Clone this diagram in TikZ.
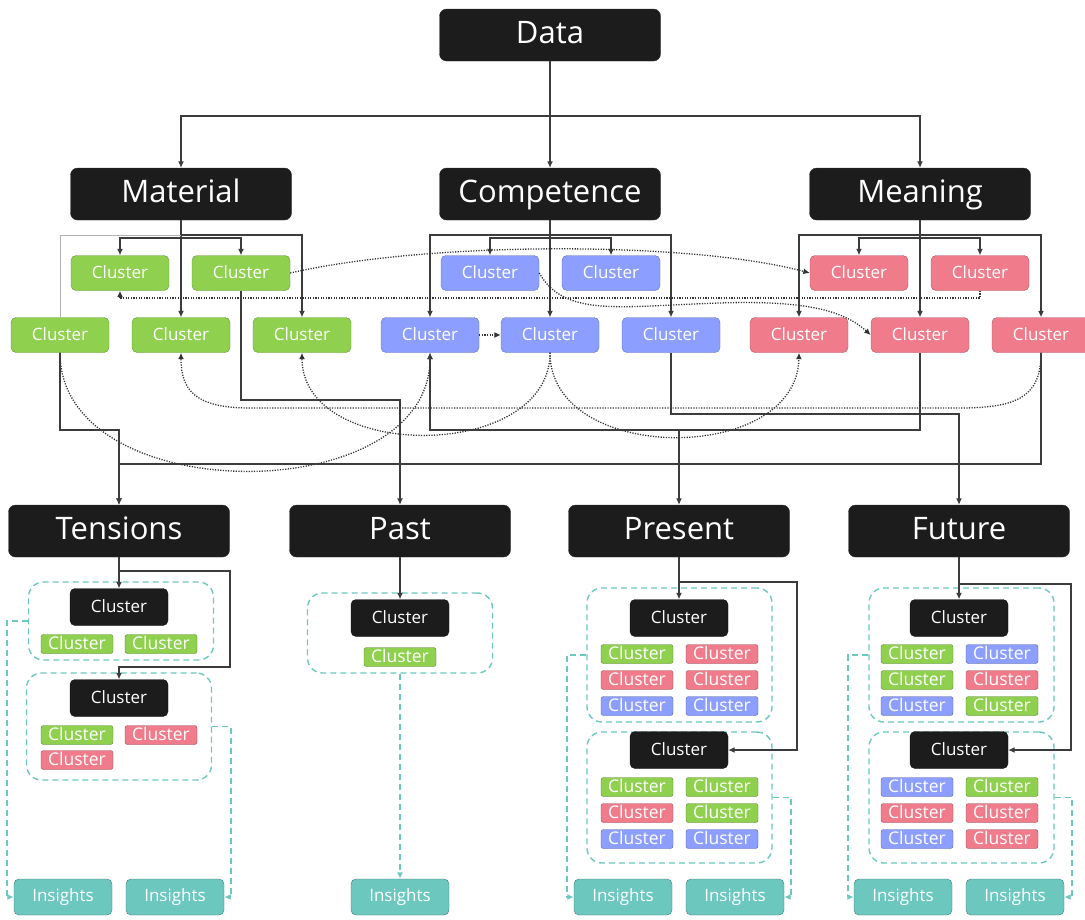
\documentclass[tikz,border=0pt]{standalone}
\usepackage{fontspec}
\setmainfont{Open Sans}
\usetikzlibrary{arrows.meta}
\definecolor{boxblack}{HTML}{1C1C1C}
\definecolor{cgreen}{HTML}{8FD14F}
\definecolor{cblue}{HTML}{8C9EFF}
\definecolor{cred}{HTML}{EF7B8B}
\definecolor{cteal}{HTML}{6CC8BF}
\definecolor{linkgray}{HTML}{3C3C3C}
\tikzset{
  head/.style={fill=boxblack,draw=black!80,rounded corners=7pt,text=white,minimum width=221pt,minimum height=52pt,inner sep=0pt,text height=23pt,text depth=6.5pt,font=\fontsize{31}{34}\selectfont},
  clu/.style={fill=#1,draw=#1!70!black,rounded corners=5pt,text=white,minimum width=98pt,minimum height=35pt,inner sep=0pt,text height=13pt,text depth=2.5pt,font=\fontsize{17}{20}\selectfont},
  chip/.style={fill=#1,draw=#1!60!black,rounded corners=2.5pt,text=white,minimum width=72pt,minimum height=19pt,inner sep=0pt,text height=13pt,text depth=2.5pt,font=\fontsize{17.5}{20}\selectfont},
  insight/.style={fill=cteal,draw=cteal!60!black,rounded corners=5pt,text=white,minimum width=98pt,minimum height=36pt,inner sep=0pt,text height=13pt,text depth=3.5pt,font=\fontsize{17}{20}\selectfont},
  grp/.style={draw=cteal,line width=1.4pt,dash pattern=on 6pt off 4pt,rounded corners=15pt,minimum width=185pt,minimum height=#1,inner sep=0pt},
  link/.style={draw=linkgray,line width=1.2pt},
  ghost/.style={draw=black!30,line width=0.8pt},
  dots/.style={draw=black!80,line width=1.3pt,dash pattern=on 1.2pt off 1.4pt},
  insline/.style={draw=cteal,line width=1.4pt,dash pattern=on 6pt off 4pt}
}
\begin{document}
\begin{tikzpicture}[x=1pt,y=-1pt,>={Latex[length=6.5pt,width=6pt]}]
\useasboundingbox (0,0) rectangle (1085,919);
% headers
\node[head] (data) at (550,35) {Data};
\node[head] (material) at (181,194) {Material};
\node[head] (competence) at (550,194) {Competence};
\node[head] (meaning) at (920,194) {Meaning};
\node[head] (tensions) at (119,531) {Tensions};
\node[head] (past) at (400,531) {Past};
\node[head] (present) at (679,531) {Present};
\node[head] (future) at (959,531) {Future};
% cluster rows
\node[clu=cgreen] (g1) at (120,273) {Cluster};
\node[clu=cgreen] (g2) at (241,273) {Cluster};
\node[clu=cblue] (b1) at (490,273) {Cluster};
\node[clu=cblue] (b2) at (611,273) {Cluster};
\node[clu=cred] (r1) at (859,273) {Cluster};
\node[clu=cred] (r2) at (980,273) {Cluster};
\node[clu=cgreen] (g3) at (60,335) {Cluster};
\node[clu=cgreen] (g4) at (181,335) {Cluster};
\node[clu=cgreen] (g5) at (302,335) {Cluster};
\node[clu=cblue] (b3) at (430,335) {Cluster};
\node[clu=cblue] (b4) at (550,335) {Cluster};
\node[clu=cblue] (b5) at (671,335) {Cluster};
\node[clu=cred] (r3) at (799,335) {Cluster};
\node[clu=cred] (r4) at (920,335) {Cluster};
\node[clu=cred] (r5) at (1041,335) {Cluster};
% groups
\node[grp=78pt] (tg1) at (121,621) {};
\node[grp=107pt] (tg2) at (119,726.5) {};
\node[grp=80pt] (pg1) at (400,633) {};
\node[grp=134pt] (prg1) at (679.5,655) {};
\node[grp=131pt] (prg2) at (679.5,797.5) {};
\node[grp=134pt] (fg1) at (961.5,655) {};
\node[grp=131pt] (fg2) at (961.5,797.5) {};
\node[clu=boxblack,minimum height=37pt] (t1) at (119,607) {Cluster};
\node[clu=boxblack,minimum height=37pt] (t2) at (119,698) {Cluster};
\node[clu=boxblack,minimum height=37pt] (p1) at (400,618) {Cluster};
\node[clu=boxblack,minimum height=37pt] (pr1) at (679,618) {Cluster};
\node[clu=boxblack,minimum height=37pt] (pr2) at (679,750) {Cluster};
\node[clu=boxblack,minimum height=37pt] (f1) at (959,618) {Cluster};
\node[clu=boxblack,minimum height=37pt] (f2) at (959,750) {Cluster};
% chips
\node[chip=cgreen] (tc1) at (77,644) {Cluster};
\node[chip=cgreen] (tc2) at (161,644) {Cluster};
\node[chip=cgreen] (tc3) at (77,735) {Cluster};
\node[chip=cred] (tc4) at (161,735) {Cluster};
\node[chip=cred] (tc5) at (77,760) {Cluster};
\node[chip=cgreen] (pc1) at (400,657) {Cluster};
\node[chip=cgreen] (prc1) at (637,654) {Cluster};
\node[chip=cred] (prc2) at (722,654) {Cluster};
\node[chip=cred] (prc3) at (637,680) {Cluster};
\node[chip=cred] (prc4) at (722,680) {Cluster};
\node[chip=cblue] (prc5) at (637,706) {Cluster};
\node[chip=cblue] (prc6) at (722,706) {Cluster};
\node[chip=cgreen] (prc7) at (637,787) {Cluster};
\node[chip=cgreen] (prc8) at (722,787) {Cluster};
\node[chip=cred] (prc9) at (637,813) {Cluster};
\node[chip=cgreen] (prc10) at (722,813) {Cluster};
\node[chip=cblue] (prc11) at (637,839) {Cluster};
\node[chip=cblue] (prc12) at (722,839) {Cluster};
\node[chip=cgreen] (fc1) at (917,654) {Cluster};
\node[chip=cblue] (fc2) at (1002,654) {Cluster};
\node[chip=cgreen] (fc3) at (917,680) {Cluster};
\node[chip=cred] (fc4) at (1002,680) {Cluster};
\node[chip=cblue] (fc5) at (917,706) {Cluster};
\node[chip=cgreen] (fc6) at (1002,706) {Cluster};
\node[chip=cblue] (fc7) at (917,787) {Cluster};
\node[chip=cgreen] (fc8) at (1002,787) {Cluster};
\node[chip=cred] (fc9) at (917,813) {Cluster};
\node[chip=cred] (fc10) at (1002,813) {Cluster};
\node[chip=cblue] (fc11) at (917,839) {Cluster};
\node[chip=cred] (fc12) at (1002,839) {Cluster};
% insights
\node[insight] (ti1) at (63,897) {Insights};
\node[insight] (ti2) at (175,897) {Insights};
\node[insight] (pi) at (400,897) {Insights};
\node[insight] (pri1) at (623,897) {Insights};
\node[insight] (pri2) at (735,897) {Insights};
\node[insight] (fi1) at (903,897) {Insights};
\node[insight] (fi2) at (1015,897) {Insights};
% data split
\coordinate (dsplit) at (550,116);
\draw[link] (data.south) -- (dsplit);
\draw[link,->] (dsplit) -| (material);
\draw[link,->] (dsplit) -- (competence);
\draw[link,->] (dsplit) -| (meaning);
% category to clusters
\coordinate (msplit) at (181,238);
\coordinate (mouter) at (181,235);
\draw[link,->] (material) -- (g4);
\draw[link,->] (msplit) -| (g1);
\draw[link,->] (msplit) -| (g2);
\draw[link,->] (mouter) -| (g5);
\draw[ghost] (mouter) -| (g3);
\coordinate (csplit) at (550,238);
\coordinate (couter) at (550,235);
\draw[link,->] (competence) -- (b4);
\draw[link,->] (csplit) -| (b1);
\draw[link,->] (csplit) -| (b2);
\draw[link,->] (couter) -| (b3);
\draw[link,->] (couter) -| (b5);
\coordinate (nsplit) at (920,238);
\coordinate (nouter) at (920,235);
\draw[link,->] (meaning) -- (r4);
\draw[link,->] (nsplit) -| (r1);
\draw[link,->] (nsplit) -| (r2);
\draw[link,->] (nouter) -| (r3);
\draw[link,->] (nouter) -| (r5);
% dotted relations
\draw[dots,->] (g2.east) .. controls (430,241) and (690,241) .. (r1.west);
\draw[dots,->] (r2.south) |- (120,298) -- (g1.south);
\draw[dots,->] (b1.east) .. controls (565,318) and (620,306) .. (720,303) .. controls (810,300) and (845,312) .. (r4.west);
\draw[dots,->] (b3.east) -- (b4.west);
\draw[dots,->] (g3.south) .. controls (60,510) and (430,510) .. (b3.south);
\draw[dots,->] (b4.south) .. controls (550,462) and (302,462) .. (g5.south);
\draw[dots,->] (b4.south) .. controls (550,465) and (797,465) .. (r3.south);
\draw[dots,->] (r5.south) .. controls (1041,395) and (1020,408) .. (960,408) -- (250,408) .. controls (195,408) and (181,390) .. (g4.south);
% clusters to time frames
\coordinate (prjoin) at (679,430);
\draw[link,->] (g3.south) -- (60,430) -| (tensions);
\draw[link,->] (r5.south) -- (1041,464) -| (tensions);
\draw[link,->] (g2.south) -- (241,400) -| (past);
\draw[link,->] (r4.south) -- (920,430) -| (b3);
\draw[link,->] (prjoin) -- (present);
\draw[link,->] (b5.south) -- (671,414) -| (future);
% panels
\coordinate (tbranch) at (119,571);
\coordinate (prbranch) at (679,582);
\coordinate (fbranch) at (959,584);
\draw[link,->] (tensions) -- (t1);
\draw[link,->] (tbranch) -- (230,571) |- (119,667) -- (t2);
\draw[link,->] (past) -- (p1);
\draw[link,->] (present) -- (pr1);
\draw[link,->] (prbranch) -- (797,582) |- (pr2);
\draw[link,->] (future) -- (f1);
\draw[link,->] (fbranch) -- (1071,584) |- (f2);
% insights
\draw[insline,->] (tg1.west) -- (7,621) |- (ti1);
\draw[insline,->] (tg2.east) -- (231,726.5) |- (ti2);
\draw[insline,->] (pg1) -- (pi);
\draw[insline,->] (prg1.west) -- (567,655) |- (pri1);
\draw[insline,->] (prg2.east) -- (791,797.5) |- (pri2);
\draw[insline,->] (fg1.west) -- (848,655) |- (fi1);
\draw[insline,->] (fg2.east) -- (1072,797.5) |- (fi2);
\end{tikzpicture}
\end{document}
